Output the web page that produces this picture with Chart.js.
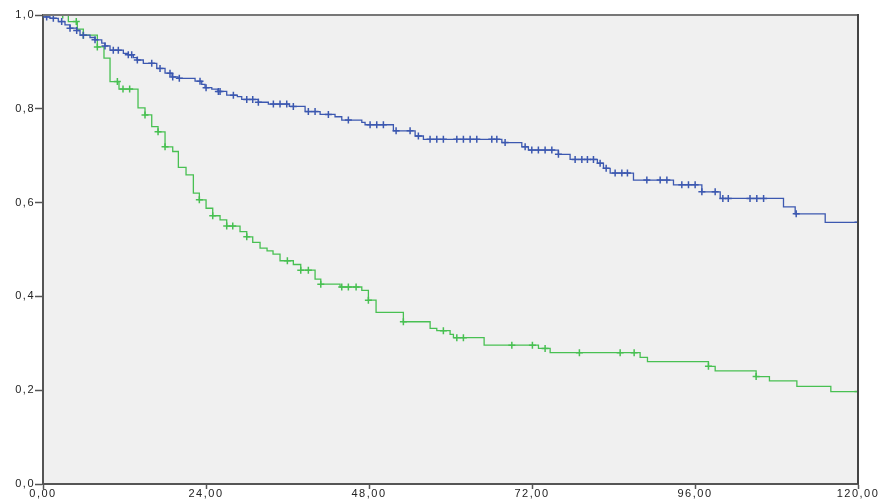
<!DOCTYPE html>
<html>
<head>
<meta charset="utf-8">
<script src="https://cdn.jsdelivr.net/npm/chart.js@4"></script>
<style>
  html, body { margin: 0; padding: 0; background: #ffffff; }
  #wrap { width: 880px; height: 502px; }
</style>
</head>
<body>
<div id="wrap"><canvas id="kmChart"></canvas></div>
<script>
// time axis and survival axis ticks
const xTicks = [0, 24, 48, 72, 96, 120];
const xTickLabels = ['0,00', '24,00', '48,00', '72,00', '96,00', '120,00'];
const yTicks = [0, 0.2, 0.4, 0.6, 0.8, 1.0];
const yTickLabels = ['0,0', '0,2', '0,4', '0,6', '0,8', '1,0'];
const followUpEnd = 120;

// group 1 (blue): event times and survival after each step
const blueTimes = [0, 0.29, 1.03, 2.25, 3.24, 3.98, 4.96, 5.45, 6.92, 7.66,
  8.65, 9.13, 9.87, 11.83, 12.52, 13.30, 13.84, 14.77, 16.75, 17.97,
  19.00, 19.88, 22.39, 23.37, 23.86, 24.85, 25.77, 27.05, 28.62, 29.26,
  31.71, 33.18, 36.27, 38.59, 40.80, 43.00, 43.99, 46.94, 47.42, 51.59,
  54.79, 56.01, 67.56, 70.50, 71.47, 75.89, 77.61, 81.63, 82.52, 83.51,
  86.94, 92.83, 97.01, 99.71, 109.03, 110.75, 115.17];
const blueSurv = [1, 0.996, 0.993, 0.986, 0.979, 0.972, 0.967, 0.957, 0.952, 0.947,
  0.940, 0.934, 0.925, 0.918, 0.915, 0.909, 0.904, 0.897, 0.886, 0.876,
  0.868, 0.865, 0.859, 0.852, 0.845, 0.842, 0.837, 0.829, 0.826, 0.820,
  0.814, 0.810, 0.805, 0.794, 0.788, 0.783, 0.776, 0.771, 0.766, 0.753,
  0.742, 0.735, 0.728, 0.719, 0.712, 0.703, 0.692, 0.684, 0.673, 0.663,
  0.648, 0.638, 0.623, 0.609, 0.591, 0.576, 0.558];
const blueCensored = [0.54, 1.52, 2.75, 3.98, 4.96, 5.94, 7.66, 9.13, 10.35, 11.09,
  12.56, 13.06, 13.89, 16.01, 17.23, 18.70, 19.10, 20.07, 23.12, 24.01,
  25.82, 26.07, 28.03, 30.0, 30.88, 31.71, 33.92, 34.90, 35.89, 36.86,
  39.07, 40.06, 42.02, 44.96, 48.16, 49.14, 50.12, 51.99, 54.05, 55.27,
  56.99, 57.98, 58.95, 60.93, 61.9, 62.89, 63.87, 66.08, 66.82, 68.04,
  70.99, 71.97, 72.94, 73.93, 74.92, 75.89, 78.35, 79.34, 80.16, 81.05,
  82.03, 82.92, 84.24, 85.23, 86.05, 88.91, 90.87, 91.86, 94.06, 95.04,
  96.02, 97.01, 98.97, 100.1, 100.9, 104.1, 105.1, 106.1, 110.9, 120];

// group 2 (green)
const greenTimes = [0, 3.73, 5.05, 5.94, 8.00, 8.98, 9.87, 11.19, 13.99, 15.02,
  16.01, 16.94, 17.97, 19.10, 19.93, 21.06, 22.14, 23.02, 24.01, 24.99,
  26.07, 27.05, 29.01, 30.00, 30.88, 31.96, 32.99, 33.87, 34.90, 36.86,
  37.95, 40.06, 40.90, 43.74, 46.94, 47.91, 49.04, 53.06, 57.0, 57.98,
  59.94, 60.43, 64.95, 72.95, 74.67, 87.92, 89.0, 97.98, 98.97, 105.0,
  106.96, 111.0, 116.0];
const greenSurv = [1, 0.986, 0.970, 0.957, 0.932, 0.908, 0.858, 0.842, 0.802, 0.787,
  0.762, 0.751, 0.719, 0.709, 0.675, 0.659, 0.620, 0.606, 0.588, 0.572,
  0.563, 0.550, 0.538, 0.527, 0.515, 0.503, 0.497, 0.490, 0.476, 0.468,
  0.456, 0.437, 0.426, 0.420, 0.413, 0.392, 0.366, 0.346, 0.332, 0.327,
  0.319, 0.312, 0.296, 0.289, 0.280, 0.270, 0.261, 0.251, 0.241, 0.229,
  0.220, 0.208, 0.197];
const greenCensored = [2.9, 4.9, 5.94, 8.0, 10.95, 11.78, 12.76, 15.02, 16.94, 17.97,
  23.02, 24.99, 27.05, 27.94, 30.0, 35.98, 37.95, 39.07, 40.9, 43.99,
  44.96, 46.10, 47.91, 53.06, 58.95, 60.93, 61.9, 69.03, 72.06, 73.93,
  78.98, 84.98, 87.04, 97.98, 105.0, 120];

const blueColor = 'rgb(60,88,176)';
const greenColor = 'rgb(72,192,82)';

function stepPoints(times, surv) {
    let pts = times.map((t, i) => ({x: t, y: surv[i]}));
    pts.push({x: followUpEnd, y: surv[surv.length - 1]});
    return pts;
}

// survival value at time t (right-continuous step)
function survAt(times, surv, t) {
    let v = surv[0];
    for (let i = 0; i < times.length; i++) {
        if (times[i] <= t) v = surv[i];
    }
    return v;
}

function censorPoints(cens, times, surv) {
    return cens.map(t => ({x: t, y: survAt(times, surv, t)}));
}

const plotBackground = {
    id: 'plotBackground',
    beforeDraw(chart) {
        const a = chart.chartArea;
        const ctx = chart.ctx;
        ctx.letterSpacing = '1.5px';
        ctx.save();
        ctx.fillStyle = '#f0f0f0';
        ctx.fillRect(a.left, a.top, a.right - a.left, a.bottom - a.top);
        ctx.restore();
    },
    afterDraw(chart) {
        const a = chart.chartArea;
        const ctx = chart.ctx;
        ctx.save();
        ctx.strokeStyle = '#777';
        ctx.lineWidth = 2;
        ctx.beginPath();
        ctx.moveTo(a.left, a.top);
        ctx.lineTo(a.right, a.top);
        ctx.stroke();
        ctx.strokeStyle = '#444';
        ctx.beginPath();
        ctx.moveTo(a.right, a.top - 1);
        ctx.lineTo(a.right, a.bottom);
        ctx.stroke();
        ctx.restore();
        ctx.letterSpacing = '0px';
    }
};

const tickFont = {family: 'Liberation Sans', size: 11};

new Chart(document.getElementById('kmChart'), {
    type: 'line',
    data: {
        datasets: [{
            data: stepPoints(blueTimes, blueSurv),
            borderColor: blueColor,
            borderWidth: 1.3,
            stepped: 'before',
            pointRadius: 0,
            fill: false,
            order: 0
        }, {
            type: 'scatter',
            data: censorPoints(blueCensored, blueTimes, blueSurv),
            borderColor: blueColor,
            backgroundColor: blueColor,
            pointStyle: 'cross',
            pointRadius: 3.5,
            borderWidth: 1.5,
            order: 0
        }, {
            data: stepPoints(greenTimes, greenSurv),
            borderColor: greenColor,
            borderWidth: 1.3,
            stepped: 'before',
            pointRadius: 0,
            fill: false,
            order: 1
        }, {
            type: 'scatter',
            data: censorPoints(greenCensored, greenTimes, greenSurv),
            borderColor: greenColor,
            backgroundColor: greenColor,
            pointStyle: 'cross',
            pointRadius: 3.5,
            borderWidth: 1.5,
            order: 1
        }]
    },
    options: {
        responsive: true,
        maintainAspectRatio: false,
        animation: false,
        layout: {padding: {top: 15, right: 22, left: 0, bottom: 0}},
        plugins: {legend: {display: false}, tooltip: {enabled: false}},
        scales: {
            x: {
                type: 'linear',
                min: 0,
                max: 120,
                afterBuildTicks: (scale) => { scale.ticks = xTicks.map(v => ({value: v})); },
                afterFit: (scale) => { scale.height = 18; scale.paddingLeft = 0; scale.paddingRight = 0; },
                ticks: {
                    maxRotation: 0,
                    padding: -2,
                    color: '#222',
                    font: tickFont,
                    callback: (value, index) => xTickLabels[index]
                },
                grid: {drawOnChartArea: false, drawTicks: true, tickLength: 5, tickColor: '#555', tickWidth: 1.5},
                border: {display: true, color: '#555', width: 2}
            },
            y: {
                min: 0,
                max: 1,
                afterBuildTicks: (scale) => { scale.ticks = yTicks.map(v => ({value: v})); },
                afterFit: (scale) => { scale.width = 43; scale.paddingTop = 0; scale.paddingBottom = 0; },
                ticks: {
                    padding: 0,
                    color: '#222',
                    font: tickFont,
                    callback: (value, index) => yTickLabels[index]
                },
                grid: {drawOnChartArea: false, drawTicks: true, tickLength: 8, tickColor: '#555', tickWidth: 1.5},
                border: {display: true, color: '#555', width: 2}
            }
        }
    },
    plugins: [plotBackground]
});
</script>
</body>
</html>
